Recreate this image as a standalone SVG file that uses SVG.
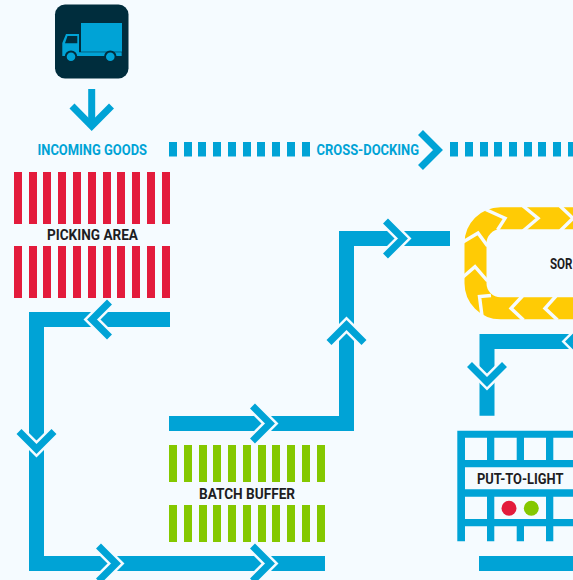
<svg xmlns="http://www.w3.org/2000/svg" width="573" height="580" viewBox="0 0 573 580">
<style>
.line{fill:none;stroke:#00a3d6;stroke-width:15;stroke-linejoin:miter}
.halo{fill:none;stroke:#f5fbff;stroke-width:12;stroke-linejoin:miter}
.chev{fill:none;stroke:#00a3d6;stroke-width:7;stroke-linejoin:miter}
.sep{fill:none;stroke:#f5fbff;stroke-width:3.4;stroke-linejoin:miter}
.b{fill:#00a3d6}.r{fill:#e31b3c}.g{fill:#84c800}
text{font-family:Roboto,"Open Sans","Liberation Sans",sans-serif;font-weight:700;font-size:14px}
.lb{fill:#00a3d6}.lk{fill:#1d1d22}
</style>
<defs>
<g id="chevron"><polyline class="halo" points="-17.5,-17.5 0,0 -17.5,17.5"/><polyline class="chev" points="-17.5,-17.5 0,0 -17.5,17.5"/></g>
<g id="redbars" class="r"><rect x="14" width="8" height="52"/><rect x="29" width="8" height="52"/><rect x="43" width="8" height="52"/><rect x="58" width="8" height="52"/><rect x="73" width="8" height="52"/><rect x="88" width="8" height="52"/><rect x="103" width="8" height="52"/><rect x="117" width="8" height="52"/><rect x="132" width="8" height="52"/><rect x="147" width="8" height="52"/><rect x="162" width="8" height="52"/></g>
<g id="greenbars" class="g"><rect x="169" width="8" height="37"/><rect x="184" width="8" height="37"/><rect x="199" width="8" height="37"/><rect x="213" width="8" height="37"/><rect x="228" width="8" height="37"/><rect x="243" width="8" height="37"/><rect x="258" width="8" height="37"/><rect x="272" width="8" height="37"/><rect x="287" width="8" height="37"/><rect x="302" width="8" height="37"/><rect x="317" width="8" height="37"/></g>
</defs>
<rect width="573" height="580" fill="#f5fbff"/>

<g id="truck">
<rect x="55" y="4.5" width="73.5" height="74" rx="10" fill="#002d3d"/>
<rect class="b" x="81" y="23" width="41" height="28.7"/>
<path class="b" d="M62.3 56V43L66 34H79V52.3H121.7V56H76V56H62.3Z"/>
<path fill="#002d3d" d="M67.5 36H77.3V43.3H65Z"/>
<circle class="b" cx="71" cy="56.7" r="5.3" stroke="#002d3d" stroke-width="2"/><circle class="b" cx="110.3" cy="56.7" r="5.3" stroke="#002d3d" stroke-width="2"/>
</g>

<g id="incoming-goods">
<text class="lb" x="37.5" y="155" textLength="109.5" lengthAdjust="spacingAndGlyphs">INCOMING GOODS</text>
</g>

<g id="picking-area">
<use href="#redbars" y="172"/>
<use href="#redbars" y="246"/>
<text class="lk" x="47" y="240" textLength="91" lengthAdjust="spacingAndGlyphs">PICKING AREA</text>
</g>

<g id="batch-buffer">
<use href="#greenbars" y="445"/>
<use href="#greenbars" y="505"/>
<text class="lk" x="199" y="499" textLength="96" lengthAdjust="spacingAndGlyphs">BATCH BUFFER</text>
</g>

<g id="sorter">
<path d="M600 218.3H500.5A25 25 0 0 0 475.5 243.3V283.3A25 25 0 0 0 500.5 308.3H600" fill="none" stroke="#ffcb05" stroke-width="22"/>
<polyline class="sep" points="485.7,209.5 505,218.3 497.5,230"/>
<polyline class="sep" points="523,206 538,218.3 523,231"/>
<polyline class="sep" points="560,206 573,218.3 560,231"/>
<polyline class="sep" points="463,242 478,233 487.5,246"/>
<polyline class="sep" points="463,277 475,266.7 487.5,281"/>
<polyline class="sep" points="482,316 479.5,296.5 491,295.5"/>
<polyline class="sep" points="522.5,296 511,308.3 523.5,320"/>
<polyline class="sep" points="556,296 545,308.3 557.5,320"/>
<text class="lk" x="550" y="269" textLength="22.5" lengthAdjust="spacingAndGlyphs">SOR</text>
</g>

<g id="put-to-light">
<path class="b" d="M457.3 430.7H573V437.7H553.3V460H573V467.3H465V489.3H573V496.7H553.3V519H573V526.3H553.3V541.3H546V526.3H524V541.3H516.7V526.3H494.3V541.3H487V526.3H465V541.3H457.3ZM465 437.7V460H487V437.7ZM494.3 437.7V460H516.7V437.7ZM524 437.7V460H546V437.7ZM465 496.7V519H487V496.7ZM494.3 496.7V519H546V496.7Z" fill-rule="evenodd"/>
<text class="lk" x="477" y="484" textLength="86.5" lengthAdjust="spacingAndGlyphs">PUT-TO-LIGHT</text>
<circle class="r" cx="509" cy="508.3" r="7.5"/>
<circle class="g" cx="531.3" cy="508.3" r="7.5"/>
</g>

<g id="connectors">
<polyline fill="none" stroke="#00a3d6" stroke-width="7" points="91.7,89 91.7,125"/>
<polyline class="chev" points="72,106 91.7,126 111.5,106"/>

<g class="b">
<rect x="169" y="142" width="8" height="14.5"/><rect x="184" y="142" width="8" height="14.5"/><rect x="198" y="142" width="8" height="14.5"/><rect x="213" y="142" width="8" height="14.5"/><rect x="228" y="142" width="8" height="14.5"/><rect x="243" y="142" width="8" height="14.5"/><rect x="257" y="142" width="8" height="14.5"/><rect x="272" y="142" width="8" height="14.5"/><rect x="287" y="142" width="8" height="14.5"/><rect x="302" y="142" width="8" height="14.5"/>
<rect x="450" y="142" width="8" height="14.5"/><rect x="465" y="142" width="8" height="14.5"/><rect x="480" y="142" width="8" height="14.5"/><rect x="494" y="142" width="8" height="14.5"/><rect x="509" y="142" width="8" height="14.5"/><rect x="524" y="142" width="8" height="14.5"/><rect x="538" y="142" width="8" height="14.5"/><rect x="553" y="142" width="8" height="14.5"/><rect x="568" y="142" width="8" height="14.5"/>
</g>
<text class="lb" x="316.5" y="155" textLength="102.5" lengthAdjust="spacingAndGlyphs">CROSS-DOCKING</text>
<use href="#chevron" transform="translate(438 150)"/>

<polyline class="line" points="170,319.5 36.5,319.5 36.5,563.5 325,563.5"/>
<use href="#chevron" transform="translate(92 319.5) rotate(180)"/>
<use href="#chevron" transform="translate(36.5 449) rotate(90)"/>
<use href="#chevron" transform="translate(116 563.5)"/>
<use href="#chevron" transform="translate(270 563.5)"/>

<polyline class="line" points="169,423.5 346.5,423.5 346.5,238.5 450,238.5"/>
<use href="#chevron" transform="translate(270 423.5)"/>
<use href="#chevron" transform="translate(346.5 325) rotate(-90)"/>
<use href="#chevron" transform="translate(403 238.5)"/>

<polyline class="line" points="590,341.5 487,341.5 487,415.7"/>
<use href="#chevron" transform="translate(570 341.5) rotate(180)"/>
<use href="#chevron" transform="translate(487 382) rotate(90)"/>

<rect class="b" x="479" y="556" width="94" height="15"/>
</g>
</svg>
